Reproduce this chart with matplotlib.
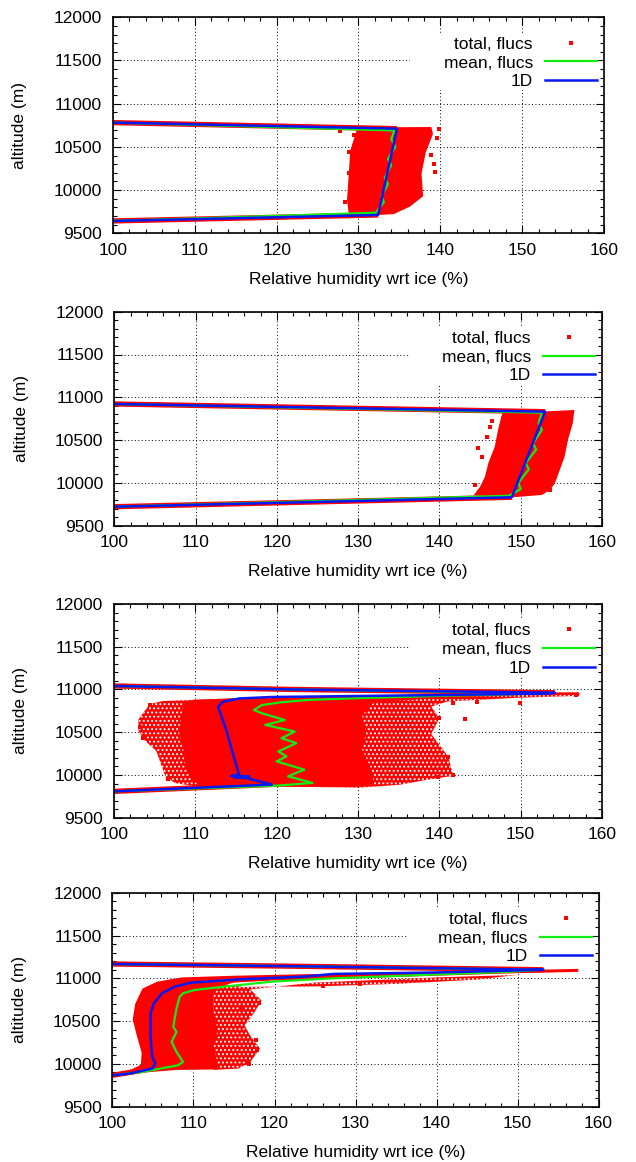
import matplotlib
matplotlib.use("Agg")
import matplotlib.pyplot as plt
from matplotlib.patches import Rectangle
from matplotlib.lines import Line2D
from matplotlib.ticker import MultipleLocator

plt.rcParams['font.family'] = ['Liberation Sans', 'DejaVu Sans']
plt.rcParams['hatch.linewidth'] = 0.9

# ---------------- data (RH wrt ice in %, altitude in m) ----------------
# Panel 1
p1_1d_rh = [100, 134.7, 132.4, 100]
p1_1d_alt = [10781, 10711, 9712, 9643]
p1_mean_rh = [100, 134.4, 134.0, 134.5, 133.6, 134.0, 133.2, 133.6, 132.8, 133.1, 132.1, 100]
p1_mean_alt = [10781, 10690, 10590, 10500, 10360, 10290, 10140, 10070, 9930, 9860, 9738, 9643]
p1_core_rh = [129.8, 134.7, 138.9, 139.1, 138.2, 137.7, 137.9, 136.3, 134.3, 132.4, 128.8, 128.6, 129.0, 129.8]
p1_core_alt = [10718, 10728, 10730, 10650, 10430, 10190, 9930, 9810, 9722, 9712, 9731, 9890, 10460, 10700]
p1_band_top_rh = [100, 134.7]
p1_band_top_alt = [10781, 10711]
p1_band_bot_rh = [100, 132.4]
p1_band_bot_alt = [9643, 9712]
p1_pts_rh = [139.6, 139.8, 139.4, 138.9, 128.8, 128.9, 129.4, 128.4, 127.8, 139.2]
p1_pts_alt = [10600, 10704, 10214, 10407, 10445, 10194, 10638, 9867, 10688, 10300]

# Panel 2
p2_1d_rh = [100, 153.0, 148.9, 100]
p2_1d_alt = [10922, 10832, 9832, 9722]
p2_mean_rh = [100, 152.6, 152.2, 152.6, 151.5, 151.9, 150.6, 151.0, 149.7, 150.0, 148.6, 100]
p2_mean_alt = [10922, 10820, 10700, 10620, 10460, 10390, 10230, 10160, 10000, 9930, 9850, 9722]
p2_core_rh = [147.8, 153.0, 156.6, 156.4, 155.8, 155.4, 154.8, 154.2, 153.6, 152.6, 149.0, 144.2,
              145.0, 145.6, 146.0, 146.8, 147.2, 147.6]
p2_core_alt = [10830, 10835, 10852, 10696, 10500, 10306, 10151, 9995, 9917, 9859, 9832, 9855,
               9956, 10073, 10229, 10423, 10618, 10773]
p2_band_top_rh = [100, 153.0]
p2_band_top_alt = [10922, 10832]
p2_band_bot_rh = [100, 148.9]
p2_band_bot_alt = [9722, 9832]
p2_pts_rh = [145.8, 144.8, 146.2, 144.4, 154.4, 153.6, 146.5, 145.2]
p2_pts_alt = [10540, 10404, 10657, 9975, 10131, 9917, 10720, 10300]

# Panel 3
p3_1d_rh = [100, 122.2, 154.2, 153.5, 140, 125, 119.4, 115.4, 113.4, 112.8, 113.8, 114.6, 115.2,
            115.4, 114.4, 116.6, 114.8, 116.2, 119.4, 100]
p3_1d_alt = [11041, 11000, 10962, 10952, 10935, 10918, 10912, 10895, 10857, 10798, 10527, 10256,
             10062, 10000, 9988, 9982, 9972, 9966, 9888, 9808]
p3_mean_rh = [100, 122.2, 153.5, 140, 131.0, 123.7, 120.5, 118.2, 117.2, 118.2, 121.0, 118.6, 122.2,
              120.6, 122.4, 120.2, 121.2, 120.0, 123.4, 121.4, 124.4, 120.2, 100]
p3_mean_alt = [11041, 11000, 10955, 10925, 10902, 10877, 10850, 10818, 10760, 10721, 10643, 10585,
               10508, 10430, 10372, 10275, 10217, 10159, 10062, 9984, 9907, 9876, 9808]
p3_outer_rh = [104.4, 103.0, 103.0, 103.6, 105.2, 105.8, 106.3, 107.5, 110, 125, 130.2, 135.1, 138.4,
               141.7, 141.1, 139.0, 140.0, 139.0, 141, 150, 157.2, 157.2, 150, 140, 125, 115, 110, 106]
p3_outer_alt = [10830, 10650, 10520, 10420, 10280, 10120, 9990, 9905, 9868, 9858, 9852, 9885, 9942,
                9990, 10214, 10480, 10663, 10800, 10860, 10905, 10925, 10965, 10960, 10935, 10915,
                10895, 10880, 10865]
p3_core_rh = [108.5, 108.3, 108.0, 108.5, 108.8, 109.5, 110.5, 120, 130, 132, 131.5, 130.5, 131,
              130.5, 132, 140, 150, 157.2, 157.2, 150, 140, 125, 115, 110]
p3_core_alt = [10860, 10700, 10500, 10300, 10100, 9950, 9880, 9866, 9858, 9900, 10100, 10300, 10500,
               10700, 10850, 10900, 10935, 10945, 10965, 10962, 10940, 10918, 10898, 10880]
p3_band_top_rh = [100, 122.2, 154.2]
p3_band_top_alt = [11041, 11000, 10962]
p3_band_bot_rh = [100, 119.4]
p3_band_bot_alt = [9808, 9888]
p3_pts_rh = [143.1, 141.7, 141.1, 140.0, 139.8, 103.2, 104.4, 106.7, 103.6, 141.7, 144.6, 149.9, 156.8]
p3_pts_alt = [10651, 10000, 10214, 10663, 9980, 10565, 10819, 9950, 10429, 10839, 10858, 10847, 10936]

# Panel 4
p4_1d_rh = [100, 125, 153.2, 150, 140, 127.3, 123.7, 115.7, 109.7, 107.7, 106.1, 105.1, 104.7, 104.7,
            104.9, 105.3, 104.9, 102.1, 100]
p4_1d_alt = [11167, 11138, 11100, 11092, 11068, 11051, 11020, 10988, 10949, 10902, 10824, 10707,
             10590, 10316, 10082, 10004, 9945, 9887, 9867]
p4_mean_rh = [100, 125, 153.0, 149.1, 140, 127.3, 119.7, 113.7, 110.1, 108.7, 108.3, 107.9, 107.5,
              107.9, 107.3, 107.9, 108.7, 108.1, 103.7, 100]
p4_mean_alt = [11167, 11138, 11100, 11077, 11045, 11000, 10961, 10902, 10863, 10824, 10785, 10648,
               10434, 10375, 10258, 10141, 10023, 9984, 9906, 9867]
p4_outer_rh = [112.5, 116, 125, 135, 145, 150, 140, 125, 117, 118.4, 117.5, 116.3, 117.0, 118.2,
               117.0, 115.5, 112.5]
p4_outer_alt = [10950, 10900, 10905, 10935, 10985, 11040, 11010, 10950, 10870, 10740, 10600, 10450,
                10330, 10180, 10020, 9945, 9930]
p4_core_rh = [100, 100, 102.0, 103.5, 103.6, 103.0, 102.5, 102.8, 103.7, 105.5, 108.5, 115, 125, 140,
              150, 157.5, 157.5, 150, 140, 130, 120, 115, 113, 112.5, 112.5, 113, 112.5, 113, 113,
              108, 104, 102]
p4_core_alt = [9845, 9890, 9920, 9990, 10130, 10330, 10520, 10700, 10880, 10960, 11010, 11030, 11050,
               11075, 11095, 11110, 11075, 11060, 11030, 11000, 10975, 10950, 10900, 10800, 10600,
               10400, 10200, 10000, 9935, 9930, 9900, 9870]
p4_band_top_rh = [100, 125, 153.2]
p4_band_top_alt = [11167, 11138, 11100]
p4_band_bot_rh = [100, 104.9]
p4_band_bot_alt = [9867, 9945]
p4_pts_rh = [118.1, 117.9, 116.9, 117.7, 115.9, 115.3, 116.6, 130.5, 126.0]
p4_pts_alt = [10707, 10160, 10004, 10277, 10648, 10980, 10008, 10930, 10905]

panels = [
    dict(one=(p1_1d_rh, p1_1d_alt), mean=(p1_mean_rh, p1_mean_alt), outer=None,
         core=(p1_core_rh, p1_core_alt), bands=[(p1_band_top_rh, p1_band_top_alt), (p1_band_bot_rh, p1_band_bot_alt)],
         pts=(p1_pts_rh, p1_pts_alt), box=(113, 604, 17.3, 233.3)),
    dict(one=(p2_1d_rh, p2_1d_alt), mean=(p2_mean_rh, p2_mean_alt), outer=None,
         core=(p2_core_rh, p2_core_alt), bands=[(p2_band_top_rh, p2_band_top_alt), (p2_band_bot_rh, p2_band_bot_alt)],
         pts=(p2_pts_rh, p2_pts_alt), box=(114.5, 602, 311.7, 525.7)),
    dict(one=(p3_1d_rh, p3_1d_alt), mean=(p3_mean_rh, p3_mean_alt), outer=(p3_outer_rh, p3_outer_alt),
         core=(p3_core_rh, p3_core_alt), bands=[(p3_band_top_rh, p3_band_top_alt), (p3_band_bot_rh, p3_band_bot_alt)],
         pts=(p3_pts_rh, p3_pts_alt), box=(114, 602, 604, 817.7)),
    dict(one=(p4_1d_rh, p4_1d_alt), mean=(p4_mean_rh, p4_mean_alt), outer=(p4_outer_rh, p4_outer_alt),
         core=(p4_core_rh, p4_core_alt), bands=[(p4_band_top_rh, p4_band_top_alt), (p4_band_bot_rh, p4_band_bot_alt)],
         pts=(p4_pts_rh, p4_pts_alt), box=(112.5, 598.5, 892.7, 1106.7)),
]

RED = '#ff0000'
GREEN = '#11ee11'
BLUE = '#0818f0'
FS = 12.5

W, H = 636, 1162
fig = plt.figure(figsize=(W / 100, H / 100), dpi=100)

for p in panels:
    l, r, t, b = p['box']
    ax = fig.add_axes([l / W, 1 - b / H, (r - l) / W, (b - t) / H])
    ax.set_xlim(100, 160)
    ax.set_ylim(9500, 12000)
    ax.xaxis.set_major_locator(MultipleLocator(10))
    ax.xaxis.set_minor_locator(MultipleLocator(2))
    ax.yaxis.set_major_locator(MultipleLocator(500))
    ax.yaxis.set_minor_locator(MultipleLocator(100))
    ax.tick_params(which='both', direction='in', top=True, right=True, width=0.8, color='k')
    ax.tick_params(which='major', length=5.5)
    ax.tick_params(which='minor', length=3)
    ax.tick_params(axis='x', labelsize=FS, pad=7)
    ax.tick_params(axis='y', labelsize=FS, pad=8)
    for s in ax.spines.values():
        s.set_linewidth(1.2)
    ax.set_axisbelow(True)
    ax.grid(True, which='major', color='k', linestyle=(0, (1, 2.5)), linewidth=0.7)

    # opaque key area (hides grid like the original)
    ax.add_patch(Rectangle((0.605, 0.662), 0.38, 0.264, transform=ax.transAxes,
                           facecolor='white', edgecolor='none', zorder=0.8))

    if p['outer'] is not None:
        ax.fill(p['outer'][0], p['outer'][1], facecolor=RED, edgecolor='white',
                hatch='....', lw=0, zorder=1.5)
    ax.fill(p['core'][0], p['core'][1], color=RED, lw=0, zorder=1.6)
    for bx, by in p['bands']:
        ax.plot(bx, by, color=RED, lw=3.8, solid_capstyle='butt', zorder=1.7)
    ax.plot(p['pts'][0], p['pts'][1], 's', color=RED, ms=2.6, mew=0, ls='none', zorder=1.8)
    ax.plot(p['mean'][0], p['mean'][1], color=GREEN, lw=1.6, zorder=2.1)
    ax.plot(p['one'][0], p['one'][1], color=BLUE, lw=1.8, zorder=2.2)

    handles = [Line2D([], [], marker='s', color=RED, ms=3, mew=0, ls='none'),
               Line2D([], [], color=GREEN, lw=1.6),
               Line2D([], [], color=BLUE, lw=1.8)]
    ax.legend(handles, ['total, flucs', 'mean, flucs', '1D'], loc='upper right',
              bbox_to_anchor=(0.986, 0.91), frameon=False, markerfirst=False,
              handlelength=3.0, handletextpad=0.7, borderpad=0, borderaxespad=0,
              labelspacing=0.2, fontsize=FS, numpoints=1)

    ax.set_xlabel('Relative humidity wrt ice (%)', fontsize=FS, labelpad=10)
    ax.set_ylabel('altitude (m)', fontsize=FS, labelpad=19)

fig.savefig('out.png', dpi=100)
